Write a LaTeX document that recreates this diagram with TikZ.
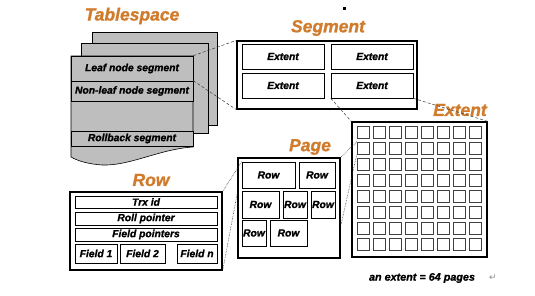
\documentclass[tikz,border=0pt]{standalone}
\usepackage{fontspec}
\setmainfont{Liberation Sans}[BoldItalicFeatures={FakeBold=1.2}]
\newfontfamily\markfont{DejaVu Sans}
\usetikzlibrary{calc}
\definecolor{innOrange}{HTML}{D07C2C}
\definecolor{innSheet}{HTML}{BEBEBE}
\definecolor{innLink}{HTML}{3A3A3A}
\tikzset{
  inntitle/.style={font=\fontsize{17.5}{19}\selectfont\bfseries\itshape,
                   text=innOrange,inner sep=0pt},
  innframe/.style={draw=black,line width=1.3pt,fill=white,inner sep=0pt},
  innbox/.style={draw=black,line width=0.6pt,fill=white,inner sep=0pt,
                 font=\fontsize{10.3}{11}\selectfont\bfseries\itshape},
  innseg/.style={innbox,fill=innSheet},
  innsheet/.style={draw=black,line width=0.6pt,fill=innSheet},
  innpage/.style={draw=black!75,line width=0.6pt,fill=white,
                  minimum size=12.5pt,inner sep=0pt},
  innlink/.style={innLink,line width=0.5pt,densely dashed},
  innlinkdot/.style={innLink,line width=0.6pt,densely dotted}
}

\begin{document}
\begin{tikzpicture}[x=1pt,y=-1pt]
  \useasboundingbox (0,0) rectangle (535,295);
  \fill[black] (343,6.5) rectangle (345.5,9.5);

  % tablespace
  \node[inntitle] (tstitle) at (132,16) {Tablespace};
  \draw[innsheet] (92,32) rectangle (217,125);
  \draw[innsheet] (81,43) rectangle (208,133);
  \draw[innsheet] (71,56) -- (193,56) -- (193,147)
    .. controls (160,149) and (130,166) .. (102,165)
    .. controls (88,164) and (78,161) .. (71,157) -- cycle;
  \node[innseg,minimum width=122,minimum height=25] (leaf) at (132,68.5)
    {Leaf node segment};
  \node[innseg,minimum width=122,minimum height=20] (nonleaf) at (132,91)
    {Non-leaf node segment};
  \node[innseg,minimum width=122,minimum height=15] (rollback) at (132,138.5)
    {Rollback segment};

  % segment
  \node[inntitle] (segtitle) at (328,28) {Segment};
  \node[innframe,minimum width=180,minimum height=68] (seg) at (327,75) {};
  \node[innbox,minimum width=82,minimum height=25] (e1) at (283,56.5) {Extent};
  \node[innbox,minimum width=82,minimum height=25] (e2) at (372,56.5) {Extent};
  \node[innbox,minimum width=82,minimum height=25] (e3) at (283,85.5) {Extent};
  \node[innbox,minimum width=82,minimum height=25] (e4) at (372,85.5) {Extent};

  % extent
  \node[inntitle] (exttitle) at (460,110) {Extent};
  \node[innframe,minimum width=135,minimum height=135] (ext) at (419.5,189.5) {};
  \foreach \i in {0,...,7}
    \foreach \j in {0,...,7}
      \node[innpage] (p\i\j) at ({363.25+16*\i},{132.25+16*\j}) {};
  \node[font=\fontsize{10.8}{12}\selectfont\bfseries\itshape] (note)
    at (422,278) {an extent = 64 pages};
  \node[font=\markfont\fontsize{9}{10}\selectfont,text=black!45] (ret)
    at (493,278) {↵};

  % page
  \node[inntitle] (pgtitle) at (310,147) {Page};
  \node[innframe,minimum width=102,minimum height=100] (pg) at (289,208) {};
  \node[innbox,minimum width=53,minimum height=26] (r1) at (268.5,175) {Row};
  \node[innbox,minimum width=36,minimum height=26] (r2) at (317,175) {Row};
  \node[innbox,minimum width=37,minimum height=27] (r3) at (260.5,204.5) {Row};
  \node[innbox,minimum width=24,minimum height=27] (r4) at (295,204.5) {Row};
  \node[innbox,minimum width=24,minimum height=27] (r5) at (323,204.5) {Row};
  \node[innbox,minimum width=24,minimum height=26] (r6) at (254,233) {Row};
  \node[innbox,minimum width=37,minimum height=26] (r7) at (288.5,233) {Row};

  % row
  \node[inntitle] (rowtitle) at (151,180) {Row};
  \node[innframe,minimum width=152,minimum height=78] (rowbox) at (146,231) {};
  \node[innbox,minimum width=142,minimum height=12] (trx) at (146,202) {Trx id};
  \node[innbox,minimum width=142,minimum height=13] (roll) at (146,218.5)
    {Roll pointer};
  \node[innbox,minimum width=142,minimum height=13] (fptr) at (146,234.5)
    {Field pointers};
  \node[innbox,minimum width=42,minimum height=19] (f1) at (96,253.5) {Field 1};
  \node[innbox,minimum width=45,minimum height=19] (f2) at (142.5,253.5) {Field 2};
  \node[innbox,minimum width=40,minimum height=19] (fn) at (197,253.5) {Field n};

  % links
  \draw[innlink] (leaf.north east) -- (seg.north west);
  \draw[innlink] (nonleaf.north east) -- (seg.south west);
  \draw[innlink] (e4.south west) -- (ext.north west);
  \draw[innlink] (e4.south east) -- (ext.north east);
  \draw[innlinkdot] (p01.north west) -- (pg.north east);
  \draw[innlinkdot] (p01.south west) -- ($(pg.south east)!0.32!(pg.north east)$);
  \draw[innlinkdot] (r1.north west) -- (rowbox.north east);
  \draw[innlinkdot] ($(pg.north west)!0.35!(pg.south west)$) -- (rowbox.south east);
\end{tikzpicture}
\end{document}
